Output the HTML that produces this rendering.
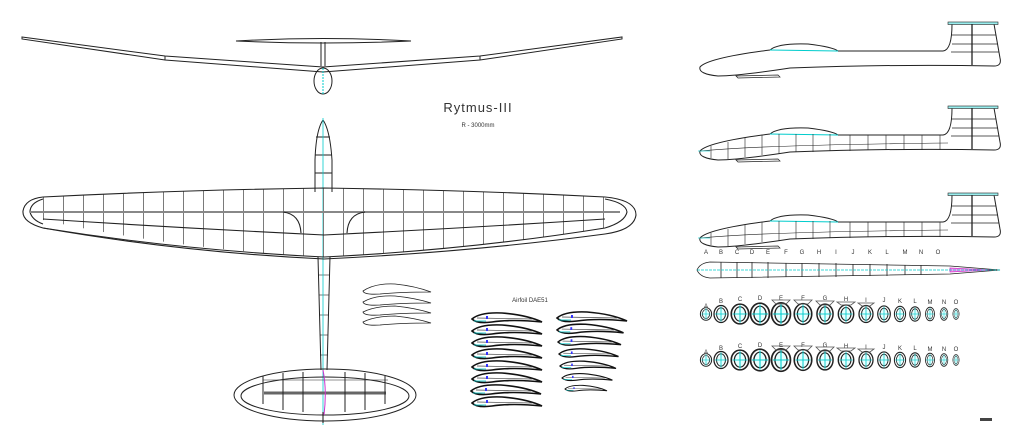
<!DOCTYPE html>
<html><head><meta charset="utf-8"><style>
html,body{margin:0;padding:0;background:#fff;}
svg{display:block;}
text{font-family:"Liberation Sans",sans-serif;}
</style></head><body>
<svg width="1024" height="446" viewBox="0 0 1024 446" xmlns="http://www.w3.org/2000/svg">
<defs>
<pattern id="ribs" x="3" y="0" width="20" height="446" patternUnits="userSpaceOnUse">
<line x1="0" y1="0" x2="0" y2="446" stroke="#222" stroke-width="1.2"/>
</pattern>
<clipPath id="wingclip"><path d="M43,197 Q180,190 324,188 Q468,190 605,197 L605,228 Q470,250 324,257 Q180,250 43,220 Z"/></clipPath>
<g id="xs"><ellipse cx="0" cy="0" rx="7" ry="9" fill="none" stroke="#222" stroke-width="1.3"/><ellipse cx="0" cy="0" rx="4.5" ry="6.5" fill="#e8ffff" stroke="#222" stroke-width="1"/><line x1="-6" y1="0" x2="6" y2="0" stroke="#0cc" stroke-width=".8"/><line x1="0" y1="-8" x2="0" y2="8" stroke="#0cc" stroke-width=".8"/></g>
<g id="af"><path d="M0,0 Q8,-7 30,-6 Q55,-4 70,3 Q40,0 20,3 Q5,5 0,0Z" fill="none" stroke="#111" stroke-width="1.6"/><line x1="5" y1="-1" x2="60" y2="0" stroke="#444" stroke-width=".7"/><rect x="14" y="-3" width="2" height="3" fill="#33f"/><line x1="2" y1="2" x2="14" y2="2" stroke="#0cc" stroke-width=".8"/></g>
<g id="side" fill="none" stroke="#222" stroke-width="1">
<path d="M2,53 Q10,44 72,36 Q80,29 110,30 Q135,33 140,37 L245,37 Q254,36 254,10 L296,10 L302,44 Q304,52 296,52 Q200,50 92,54 Q40,62 20,62 Q0,60 2,53Z"/>
<line x1="72" y1="36" x2="140" y2="37" stroke="#0cc"/>
<path d="M38,62 L80,61 L82,63 L40,64Z" stroke-width=".7"/>
<rect x="250" y="8" width="50" height="2.5" fill="#9ee" stroke="#222" stroke-width=".6"/>
<line x1="274" y1="10" x2="274" y2="51" stroke-width="1.3"/>
<line x1="254" y1="21" x2="298" y2="21" stroke-width=".7"/><line x1="254" y1="30" x2="300" y2="30" stroke-width=".7"/><line x1="253" y1="38" x2="301" y2="38" stroke-width=".7"/>
</g>
<g id="sribs" stroke="#222" stroke-width=".6" fill="none">
<line x1="13" y1="48" x2="13" y2="60"/><line x1="30" y1="44" x2="30" y2="61"/><line x1="47" y1="40" x2="47" y2="59"/><line x1="64" y1="37" x2="64" y2="57"/><line x1="81" y1="36" x2="81" y2="56"/><line x1="98" y1="36" x2="98" y2="54"/><line x1="115" y1="36" x2="115" y2="54"/><line x1="132" y1="36" x2="132" y2="53"/><line x1="152" y1="37" x2="152" y2="53"/><line x1="170" y1="37" x2="170" y2="52"/><line x1="188" y1="37" x2="188" y2="52"/><line x1="206" y1="37" x2="206" y2="52"/><line x1="224" y1="37" x2="224" y2="52"/><line x1="242" y1="37" x2="242" y2="52"/>
<path d="M3,53 Q60,47 250,45"/>
<line x1="0" y1="53" x2="12" y2="53" stroke="#0cc"/>
</g>
</defs>

<!-- front view -->
<g fill="none" stroke="#222" stroke-width="1">
<path d="M22,37 L165,56 L323,67 L480,56 L622,37 L622,39 L480,60 L323,72 L165,60 L22,39Z"/>
<line x1="165" y1="56" x2="165" y2="60"/><line x1="480" y1="56" x2="480" y2="60"/>
<path d="M236,41 Q323,36 411,41 Q323,45 236,41Z"/>
<line x1="321" y1="42" x2="321" y2="66"/><line x1="325" y1="42" x2="325" y2="66"/>
<ellipse cx="323" cy="81" rx="9" ry="13"/>
<line x1="323" y1="68" x2="323" y2="94" stroke="#0cc" stroke-dasharray="2,1"/>
</g>
<text x="478" y="112" font-size="13" text-anchor="middle" fill="#333" letter-spacing="1">Rytmus-III</text>
<text x="478" y="127" font-size="6" text-anchor="middle" fill="#333">R - 3000mm</text>

<!-- top view fuselage -->
<g fill="none" stroke="#222" stroke-width="1">
<path d="M323,120 Q316,130 315,160 L315,192 M323,120 Q330,130 332,160 L332,192"/>
<line x1="316" y1="137" x2="330" y2="137"/><line x1="315" y1="155" x2="332" y2="155"/><line x1="315" y1="173" x2="332" y2="173"/>
<path d="M318,257 L321,370 M330,257 L327,370"/>
<line x1="318" y1="275" x2="330" y2="275" stroke-width=".6"/><line x1="319" y1="295" x2="329" y2="295" stroke-width=".6"/><line x1="319" y1="315" x2="329" y2="315" stroke-width=".6"/><line x1="320" y1="335" x2="328" y2="335" stroke-width=".6"/><line x1="320" y1="355" x2="328" y2="355" stroke-width=".6"/>
</g>
<line x1="323" y1="118" x2="323" y2="425" stroke="#0cc" stroke-width=".8"/>
<!-- wing -->
<g clip-path="url(#wingclip)"><rect x="0" y="180" width="1024" height="90" fill="url(#ribs)"/></g>
<g fill="none" stroke="#222" stroke-width="1.1">
<path d="M43,197 Q180,190 324,188 Q468,190 605,197 Q636,200 636,215 Q634,230 605,234 Q470,252 324,259 Q180,252 43,228 Q22,222 23,211 Q25,199 43,197Z"/>
<path d="M43,199 Q30,203 30,212 Q32,220 43,224" />
<path d="M605,199 Q626,203 627,212 Q625,222 605,228"/>
<line x1="30" y1="212" x2="620" y2="212" stroke="#888" stroke-width="2"/>
<path d="M43,219 Q180,228 324,235 Q468,228 605,219"/>
<path d="M43,228 Q180,250 324,257 Q468,250 605,228"/>
<path d="M283,212 Q300,214 301,233 M365,212 Q348,214 347,233"/>
</g>
<!-- stab -->
<g fill="none" stroke="#222" stroke-width="1">
<ellipse cx="325" cy="395" rx="91" ry="26"/>
<ellipse cx="325" cy="396" rx="84" ry="19"/>
<line x1="264" y1="393" x2="386" y2="393" stroke="#666" stroke-width="3"/>
<line x1="263" y1="380" x2="388" y2="380" stroke-width=".6"/>
<line x1="263" y1="376" x2="263" y2="404"/><line x1="283" y1="373" x2="283" y2="410"/><line x1="303" y1="372" x2="303" y2="412"/><line x1="345" y1="372" x2="345" y2="412"/><line x1="365" y1="373" x2="365" y2="410"/><line x1="385" y1="376" x2="385" y2="404"/>
<path d="M323,370 Q327,390 324,415" stroke="#c3c"/>
<line x1="323" y1="412" x2="323" y2="423" stroke="#111"/>
</g>

<!-- small airfoils -->
<g fill="none" stroke="#222" stroke-width=".8">
<path d="M363,291 Q375,283 395,284 Q415,286 431,292 Q400,292 380,294 Q364,295 363,291Z"/>
<path d="M363,302 Q375,295 395,296 Q415,298 431,303 Q400,303 380,305 Q364,306 363,302Z"/>
<path d="M363,312 Q375,306 395,306 Q415,308 431,313 Q400,313 380,315 Q364,316 363,312Z"/>
<path d="M363,322 Q375,316 395,316 Q415,318 431,323 Q400,323 380,325 Q364,326 363,322Z"/>
</g>
<text x="530" y="302" font-size="6" text-anchor="middle" fill="#333">Airfoil DAE51</text>
<g>
<use href="#af" x="472" y="319"/><use href="#af" x="472" y="331"/><use href="#af" x="472" y="343"/><use href="#af" x="472" y="355"/><use href="#af" x="472" y="367"/><use href="#af" x="472" y="379"/><use href="#af" x="471" y="391"/><use href="#af" x="472" y="403"/>
<use href="#af" x="557" y="318"/><use href="#af" x="557" y="330" transform="translate(557,330) scale(.95) translate(-557,-330)"/><use href="#af" x="558" y="342" transform="translate(558,342) scale(.9) translate(-558,-342)"/><use href="#af" x="559" y="354" transform="translate(559,354) scale(.85) translate(-559,-354)"/><use href="#af" x="560" y="366" transform="translate(560,366) scale(.8) translate(-560,-366)"/><use href="#af" x="562" y="378" transform="translate(562,378) scale(.72) translate(-562,-378)"/><use href="#af" x="565" y="389" transform="translate(565,389) scale(.6) translate(-565,-389)"/>
</g>

<!-- side views -->
<use href="#side" x="698" y="14"/>
<use href="#side" x="698" y="98"/>
<use href="#sribs" x="698" y="98"/>
<use href="#side" x="698" y="185"/>
<use href="#sribs" x="698" y="185"/>
<g font-size="6" fill="#333" text-anchor="middle">
<text x="706" y="254">A</text><text x="721" y="254">B</text><text x="737" y="254">C</text><text x="752" y="254">D</text><text x="768" y="254">E</text><text x="786" y="254">F</text><text x="802" y="254">G</text><text x="819" y="254">H</text><text x="836" y="254">I</text><text x="853" y="254">J</text><text x="870" y="254">K</text><text x="887" y="254">L</text><text x="905" y="254">M</text><text x="921" y="254">N</text><text x="938" y="254">O</text>
</g>
<!-- top fuselage -->
<g fill="none" stroke="#222" stroke-width=".8">
<path d="M697,270 Q700,263 710,262 L950,266 L1000,270 L950,274 L710,278 Q700,277 697,270Z"/>
<line x1="721" y1="262" x2="721" y2="278"/><line x1="737" y1="262" x2="737" y2="278"/><line x1="752" y1="262" x2="752" y2="278"/><line x1="768" y1="262" x2="768" y2="278"/><line x1="786" y1="263" x2="786" y2="277"/><line x1="802" y1="263" x2="802" y2="277"/><line x1="819" y1="263" x2="819" y2="277"/><line x1="836" y1="263" x2="836" y2="277"/><line x1="853" y1="264" x2="853" y2="276"/><line x1="870" y1="264" x2="870" y2="276"/><line x1="887" y1="264" x2="887" y2="276"/><line x1="905" y1="265" x2="905" y2="275"/><line x1="921" y1="265" x2="921" y2="275"/>
<path d="M950,268 L990,270 L950,272Z" stroke="#c3c" fill="#f9e"/>
<line x1="697" y1="270" x2="1000" y2="270" stroke="#0cc" stroke-dasharray="3,1"/>
</g>
<!-- cross sections -->
<g font-size="6" fill="#333" text-anchor="middle">
<text x="706" y="308">A</text><text x="721" y="303">B</text><text x="740" y="301">C</text><text x="760" y="300">D</text><text x="781" y="300">E</text><text x="803" y="300">F</text><text x="825" y="300">G</text><text x="846" y="301">H</text><text x="866" y="302">I</text><text x="884" y="302">J</text><text x="900" y="303">K</text><text x="915" y="303">L</text><text x="930" y="304">M</text><text x="944" y="304">N</text><text x="956" y="304">O</text>
<text x="706" y="354">A</text><text x="721" y="350">B</text><text x="740" y="348">C</text><text x="760" y="347">D</text><text x="781" y="347">E</text><text x="803" y="347">F</text><text x="825" y="347">G</text><text x="846" y="348">H</text><text x="866" y="349">I</text><text x="884" y="349">J</text><text x="900" y="350">K</text><text x="915" y="350">L</text><text x="930" y="351">M</text><text x="944" y="351">N</text><text x="956" y="351">O</text>
</g>
<g>
<use href="#xs" transform="translate(706,314) scale(.8,.7)"/><use href="#xs" transform="translate(721,314) scale(1,.95)"/><use href="#xs" transform="translate(740,314) scale(1.25,1.1)"/><use href="#xs" transform="translate(760,314) scale(1.35,1.2)"/><use href="#xs" transform="translate(781,314) scale(1.35,1.25)"/><use href="#xs" transform="translate(803,314) scale(1.25,1.15)"/><use href="#xs" transform="translate(825,314) scale(1.15,1.1)"/><use href="#xs" transform="translate(846,314) scale(1.1,1)"/><use href="#xs" transform="translate(866,314) scale(1,.95)"/><use href="#xs" transform="translate(884,314) scale(.9,.9)"/><use href="#xs" transform="translate(900,314) scale(.8,.85)"/><use href="#xs" transform="translate(915,314) scale(.75,.8)"/><use href="#xs" transform="translate(930,314) scale(.65,.75)"/><use href="#xs" transform="translate(944,314) scale(.55,.7)"/><use href="#xs" transform="translate(956,314) scale(.45,.6)"/>
<use href="#xs" transform="translate(706,360) scale(.8,.7)"/><use href="#xs" transform="translate(721,360) scale(1,.95)"/><use href="#xs" transform="translate(740,360) scale(1.25,1.1)"/><use href="#xs" transform="translate(760,360) scale(1.35,1.2)"/><use href="#xs" transform="translate(781,360) scale(1.35,1.25)"/><use href="#xs" transform="translate(803,360) scale(1.25,1.15)"/><use href="#xs" transform="translate(825,360) scale(1.15,1.1)"/><use href="#xs" transform="translate(846,360) scale(1.1,1)"/><use href="#xs" transform="translate(866,360) scale(1,.95)"/><use href="#xs" transform="translate(884,360) scale(.9,.9)"/><use href="#xs" transform="translate(900,360) scale(.8,.85)"/><use href="#xs" transform="translate(915,360) scale(.75,.8)"/><use href="#xs" transform="translate(930,360) scale(.65,.75)"/><use href="#xs" transform="translate(944,360) scale(.55,.7)"/><use href="#xs" transform="translate(956,360) scale(.45,.6)"/>
</g>
<g fill="none" stroke="#555" stroke-width=".8">
<path d="M772,300 L790,300 L786,304 L776,304Z"/><path d="M794,300 L812,300 L808,304 L798,304Z"/><path d="M816,301 L834,301 L830,305 L820,305Z"/><path d="M837,302 L855,302 L851,305 L841,305Z"/><path d="M858,303 L874,303 L870,306 L862,306Z"/>
<path d="M772,346 L790,346 L786,350 L776,350Z"/><path d="M794,346 L812,346 L808,350 L798,350Z"/><path d="M816,347 L834,347 L830,351 L820,351Z"/><path d="M837,348 L855,348 L851,351 L841,351Z"/><path d="M858,349 L874,349 L870,352 L862,352Z"/>
</g>
<rect x="980" y="418" width="12" height="3" fill="#444"/>
</svg>
</body></html>
